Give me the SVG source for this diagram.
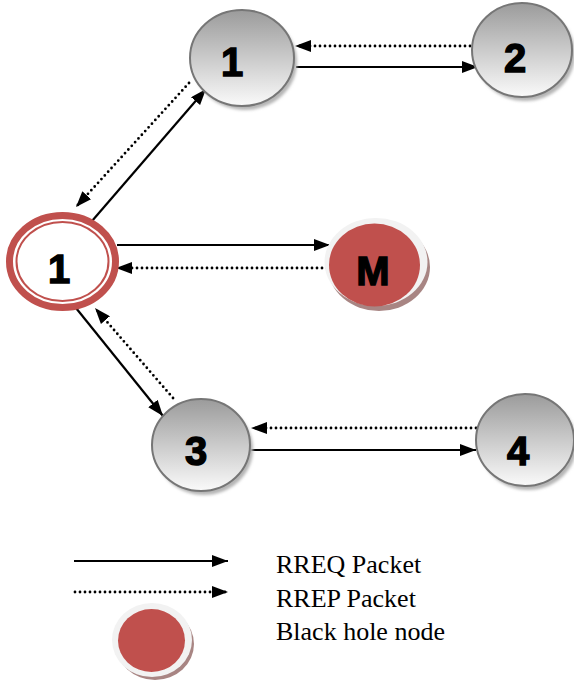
<svg xmlns="http://www.w3.org/2000/svg" width="574" height="685" viewBox="0 0 574 685">
<defs>
<linearGradient id="gray" x1="0" y1="0" x2="0" y2="1">
<stop offset="0" stop-color="#9b9b9b"/>
<stop offset="1" stop-color="#fafafa"/>
</linearGradient>
<filter id="blur" x="-20%" y="-20%" width="140%" height="140%"><feGaussianBlur stdDeviation="1.5"/></filter>
<marker id="arr" markerUnits="userSpaceOnUse" viewBox="0 0 16 12" refX="16" refY="6" markerWidth="16" markerHeight="12" orient="auto">
<path d="M0,0 L16,6 L0,12 z" fill="#000"/>
</marker>
<style>
.gray{fill:url(#gray);stroke:#767676;stroke-width:2}
.shadow{fill:#b5b5b5;filter:url(#blur)}
.lbl{font-family:"Liberation Sans",Arial,sans-serif;font-weight:bold;font-size:40px;fill:#000;stroke:#000;stroke-width:1.4;text-anchor:middle}
.solid{stroke:#000;stroke-width:2.2;fill:none;marker-end:url(#arr)}
.dot{stroke:#000;stroke-width:2.8;fill:none;stroke-dasharray:0 5;stroke-linecap:round;marker-end:url(#arr)}
.leg{font-family:"Liberation Serif","Times New Roman",serif;font-size:26px;fill:#000}
.red{fill:#c0504d}
.rim{fill:#f2f2f2}
.brown{fill:#a88583}
</style>
</defs>
<g id="connectors">
<line class="solid" x1="296" y1="67" x2="478" y2="67"/>
<line class="dot" x1="470" y1="46" x2="295" y2="46"/>
<line class="solid" x1="92" y1="221" x2="206" y2="89"/>
<line class="dot" x1="189" y1="83" x2="76" y2="207"/>
<line class="solid" x1="117" y1="245" x2="330" y2="245"/>
<line class="dot" x1="327" y1="268" x2="116" y2="268"/>
<line class="solid" x1="76" y1="308" x2="163" y2="416"/>
<line class="dot" x1="173" y1="398" x2="95" y2="308"/>
<line class="solid" x1="251" y1="450" x2="476" y2="450"/>
<line class="dot" x1="476" y1="428" x2="251" y2="428"/>
</g>
<g id="node1top">
<ellipse class="shadow" cx="245" cy="62" rx="52" ry="48"/>
<ellipse class="gray" cx="242" cy="58" rx="52" ry="48"/>
<text class="lbl" x="232" y="76">1</text>
</g>
<g id="node2">
<ellipse class="shadow" cx="525" cy="54" rx="50" ry="47"/>
<ellipse class="gray" cx="522" cy="50" rx="50" ry="47"/>
<text class="lbl" x="515" y="72">2</text>
</g>
<g id="node1src">
<ellipse cx="62.5" cy="261.5" rx="53" ry="46" fill="#fff" stroke="#c0504d" stroke-width="7"/>
<ellipse cx="62.5" cy="261.5" rx="46" ry="39.5" fill="#fff" stroke="#c0504d" stroke-width="2"/>
<text class="lbl" x="59" y="283">1</text>
</g>
<g id="nodeM">
<ellipse class="brown" cx="379" cy="267" rx="51" ry="44"/>
<ellipse class="rim" cx="376" cy="262" rx="51.5" ry="44"/>
<ellipse class="red" cx="374.5" cy="265" rx="45.5" ry="41.5"/>
<text class="lbl" x="373" y="285" font-size="38">M</text>
</g>
<g id="node3">
<ellipse class="shadow" cx="204" cy="449" rx="49" ry="46"/>
<ellipse class="gray" cx="201" cy="445" rx="49" ry="46"/>
<text class="lbl" x="196" y="465">3</text>
</g>
<g id="node4">
<ellipse class="shadow" cx="528" cy="444" rx="49" ry="46"/>
<ellipse class="gray" cx="525" cy="440" rx="49" ry="46"/>
<text class="lbl" x="518" y="465">4</text>
</g>
<g id="legend">
<line class="solid" x1="74" y1="561" x2="228" y2="561"/>
<line class="dot" x1="75" y1="592" x2="228" y2="592"/>
<ellipse class="brown" cx="155" cy="644" rx="39" ry="36"/>
<ellipse class="rim" cx="152" cy="640" rx="40" ry="37"/>
<ellipse class="red" cx="151.5" cy="640.5" rx="33.5" ry="31.5"/>
<text class="leg" x="276" y="573">RREQ Packet</text>
<text class="leg" x="276" y="607">RREP Packet</text>
<text class="leg" x="276" y="640">Black hole node</text>
</g>
</svg>
